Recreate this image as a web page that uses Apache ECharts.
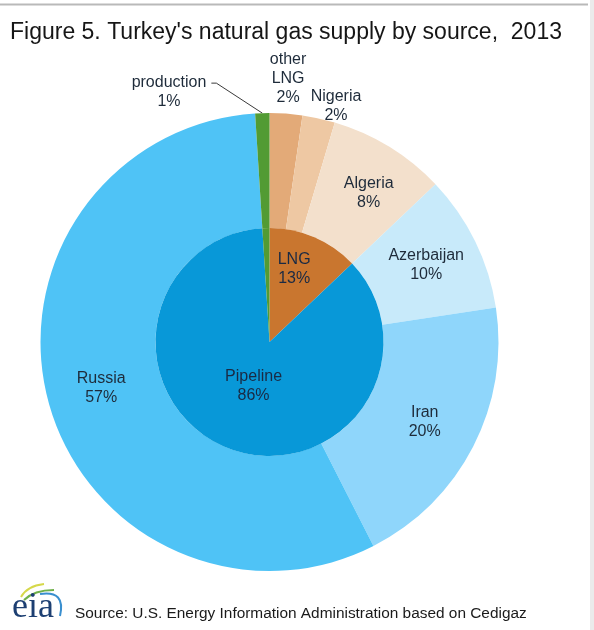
<!DOCTYPE html>
<html>
<head>
<meta charset="utf-8">
<script src="https://cdn.jsdelivr.net/npm/echarts@6/dist/echarts.min.js"></script>
<style>
  html, body { margin: 0; padding: 0; background: #fff; }
  #chart { width: 594px; height: 630px; }
</style>
</head>
<body>
<div id="chart"></div>
<script>
// ---- data ----
const titleText = "Figure 5. Turkey's natural gas supply by source,  2013";
const sourceText = "Source: U.S. Energy Information Administration based on Cedigaz";
const outerNames = ['other\nLNG', 'Nigeria', 'Algeria', 'Azerbaijan', 'Iran', 'Russia', 'production'];
const outerValues = [2.3, 2.3, 8.3, 9.7, 19.9, 56.5, 1.0];
const outerGroups = ['LNG', 'LNG', 'LNG', 'Pipeline', 'Pipeline', 'Pipeline', 'production'];
const innerNames = ['LNG', 'Pipeline', 'production'];

// ---- styles ----
const outerColors = ['#e3aa78', '#eec8a3', '#f3e0cc', '#c8eafa', '#8fd6fb', '#4fc3f6', '#529b34'];
const innerColors = ['#c9762f', '#0898d8', '#529b34'];
const labelShift = { 'other\nLNG': [6, -89], 'Nigeria': [29, -65], 'Algeria': [8, 0] };
const innerShift = { 'LNG': [1, -18], 'Pipeline': [6, -12] };
const fontFam = 'Liberation Sans, Arial, sans-serif';

const innerValues = innerNames.map(g =>
  outerValues.reduce((s, v, i) => s + (outerGroups[i] === g ? v : 0), 0));

const center = [269.5, 342];
const pctFmt = p => p.name + '\n' + Math.round(p.percent) + '%';

const outerData = outerNames.map((n, i) => {
  const d = { name: n, value: outerValues[i], itemStyle: { color: outerColors[i] } };
  if (n === 'production') {
    d.label = { position: 'outside', show: true };
    d.labelLine = { show: true, length: 30, length2: 50, lineStyle: { color: '#3a3a3a', width: 1 } };
  }
  return d;
});
const innerData = innerNames.map((n, i) => ({
  name: n, value: innerValues[i], itemStyle: { color: innerColors[i] },
  label: { show: n !== 'production' }
}));

const chart = echarts.init(document.getElementById('chart'), null, { renderer: 'canvas' });
chart.setOption({
  animation: false,
  backgroundColor: '#fff',
  title: [
    { text: titleText, left: 5, top: 16,
      textStyle: { fontFamily: fontFam, fontSize: 23, fontWeight: 'normal', color: '#161616' } },
    { text: sourceText, left: 70, top: 601,
      textStyle: { fontFamily: fontFam, fontSize: 15.4, fontWeight: 'normal', color: '#1a1a1a' } }
  ],
  graphic: [
    { type: 'line', shape: { x1: 0, y1: 4.5, x2: 588, y2: 4.5 }, style: { stroke: '#b9b9b9', lineWidth: 2 } },
    { type: 'rect', shape: { x: 590, y: 0, width: 4, height: 630 }, style: { fill: '#ebebeb' } },
    { type: 'bezierCurve', shape: { x1: 21, y1: 597, cpx1: 27, cpy1: 586, x2: 44, y2: 584 }, style: { stroke: '#d6d84a', lineWidth: 2, fill: null } },
    { type: 'bezierCurve', shape: { x1: 24, y1: 600, cpx1: 34, cpy1: 590, x2: 54, y2: 590 }, style: { stroke: '#6fb04a', lineWidth: 2, fill: null } },
    { type: 'bezierCurve', shape: { x1: 40, y1: 594, cpx1: 66, cpy1: 590, x2: 60, y2: 616 }, style: { stroke: '#3a8fcf', lineWidth: 2, fill: null } },
    { type: 'text', left: 12, top: 590, style: { text: 'eia', font: '36px "Liberation Serif", "DejaVu Serif", serif', fill: '#1d3f72' } }
  ],
  series: [
    {
      type: 'pie', name: 'source', center: center, radius: [114, 229],
      startAngle: 90, clockwise: true, avoidLabelOverlap: false,
      silent: true, emphasis: { disabled: true },
      label: { show: true, position: 'inside', formatter: pctFmt, color: '#1e2b3a',
        fontFamily: fontFam, fontSize: 16, lineHeight: 19 },
      labelLine: { show: false },
      labelLayout: function (p) {
        const name = outerNames[p.dataIndex];
        if (name === 'production') {
          const pts = p.labelLinePoints;
          const r = p.labelRect;
          if (!pts) return {};
          return {
            x: r.x + r.width / 2, align: 'center', dy: 9,
            labelLinePoints: [pts[0], [pts[2][0] + 5, pts[2][1]], pts[2]]
          };
        }
        const s = labelShift[name];
        return s ? { dx: s[0], dy: s[1] } : {};
      },
      data: outerData
    },
    {
      type: 'pie', name: 'type', center: center, radius: [0, 114],
      startAngle: 90, clockwise: true, avoidLabelOverlap: false,
      silent: true, emphasis: { disabled: true },
      label: { show: true, position: 'inside', formatter: pctFmt, color: '#1a2a44',
        fontFamily: fontFam, fontSize: 16, lineHeight: 19 },
      labelLine: { show: false },
      labelLayout: function (p) {
        const s = innerShift[innerNames[p.dataIndex]];
        return s ? { dx: s[0], dy: s[1] } : {};
      },
      data: innerData
    }
  ]
});
</script>
</body>
</html>
